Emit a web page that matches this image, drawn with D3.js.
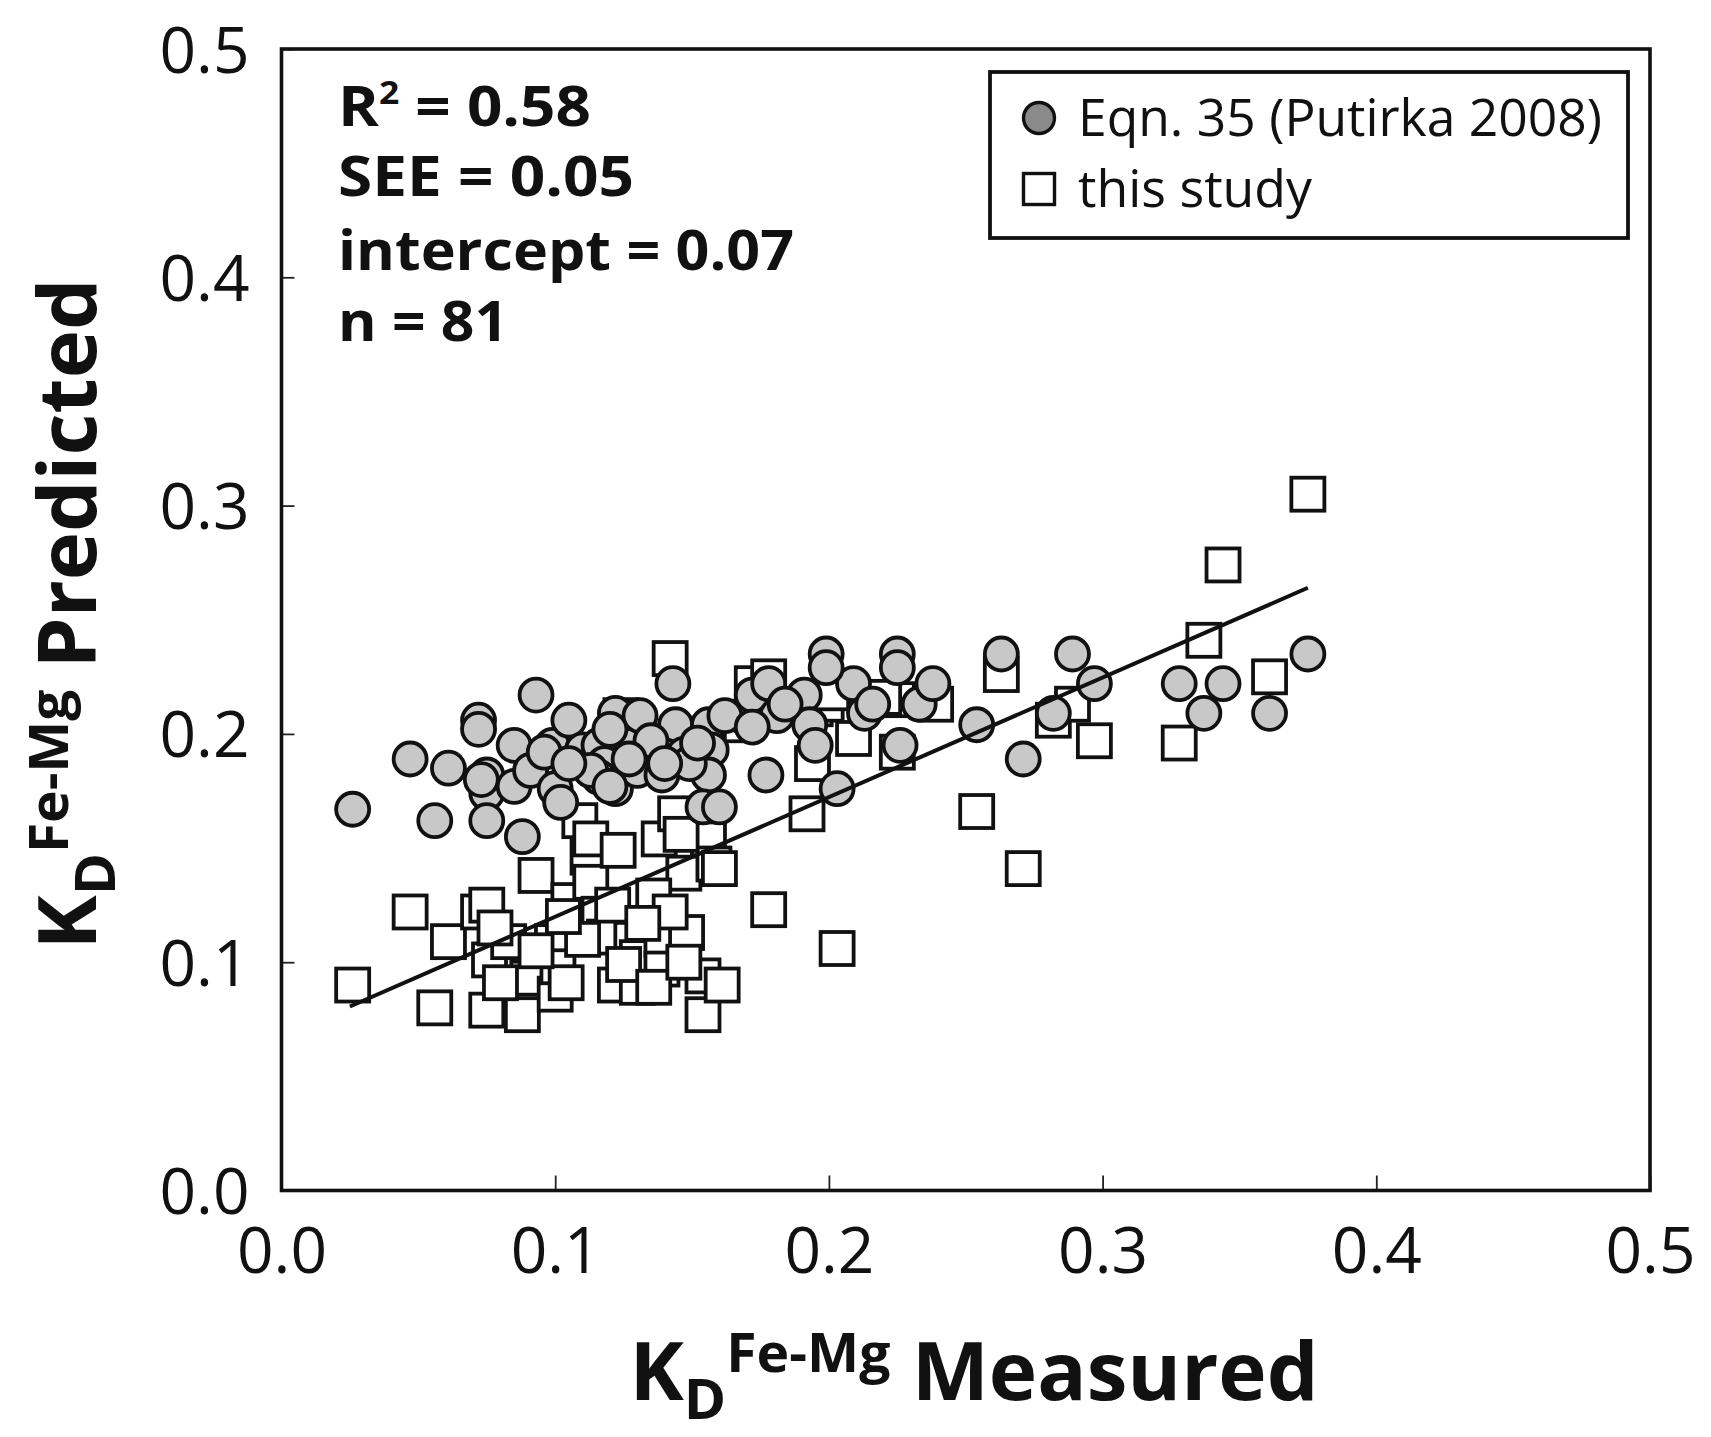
<!DOCTYPE html>
<html>
<head>
<meta charset="utf-8">
<script src="https://cdn.jsdelivr.net/npm/d3@7"></script>
<style>
  body { margin: 0; background: #fff; }
  svg { display: block; }
  text { font-family: "Open Sans", "Noto Sans", sans-serif; fill: #111; }
</style>
</head>
<body>
<svg id="chart" width="1711" height="1437"></svg>
<script>
// Eqn. 35 (Putirka 2008): measured vs predicted KD(Fe-Mg)
const putirkaX = [0.026,0.047,0.056,0.061,0.072,0.072,0.075,0.075,0.075,0.085,0.085,0.088,0.093,0.091,0.099,0.100,0.102,0.105,0.110,0.116,0.118,0.116,0.122,0.122,0.128,0.131,0.130,0.138,0.139,0.143,0.144,0.147,0.156,0.157,0.156,0.154,0.160,0.168,0.172,0.177,0.178,0.181,0.191,0.193,0.195,0.199,0.203,0.209,0.213,0.225,0.225,0.226,0.233,0.238,0.254,0.263,0.271,0.282,0.289,0.297,0.328,0.337,0.344,0.361,0.375,0.120,0.135,0.149,0.113,0.127,0.162,0.172,0.184,0.140,0.096,0.073,0.199,0.216,0.105,0.120,0.152];
const putirkaY = [0.167,0.189,0.162,0.185,0.206,0.202,0.182,0.174,0.162,0.195,0.177,0.155,0.217,0.184,0.195,0.176,0.170,0.206,0.193,0.195,0.187,0.181,0.176,0.209,0.195,0.208,0.184,0.195,0.182,0.222,0.204,0.191,0.204,0.193,0.182,0.168,0.168,0.208,0.217,0.182,0.222,0.208,0.217,0.204,0.195,0.235,0.176,0.222,0.209,0.235,0.229,0.195,0.213,0.222,0.204,0.235,0.189,0.209,0.235,0.222,0.222,0.209,0.222,0.209,0.235,0.202,0.197,0.187,0.184,0.189,0.208,0.203,0.213,0.187,0.192,0.180,0.229,0.213,0.187,0.177,0.196];

// This study: measured vs predicted KD(Fe-Mg)
const studyX = [0.026,0.047,0.056,0.061,0.072,0.075,0.075,0.076,0.083,0.088,0.090,0.093,0.100,0.099,0.101,0.105,0.109,0.112,0.113,0.113,0.116,0.118,0.122,0.123,0.124,0.128,0.130,0.130,0.138,0.139,0.139,0.142,0.144,0.147,0.148,0.154,0.154,0.156,0.158,0.161,0.168,0.172,0.178,0.178,0.192,0.194,0.195,0.199,0.203,0.209,0.225,0.225,0.239,0.254,0.263,0.271,0.282,0.289,0.297,0.328,0.337,0.344,0.361,0.375,0.136,0.080,0.104,0.125,0.136,0.147,0.121,0.142,0.110,0.093,0.160,0.146,0.103,0.078,0.132,0.201,0.220];
const studyY = [0.090,0.122,0.080,0.109,0.122,0.125,0.079,0.101,0.109,0.077,0.093,0.138,0.086,0.109,0.098,0.127,0.162,0.146,0.154,0.135,0.121,0.111,0.090,0.149,0.208,0.110,0.102,0.089,0.154,0.110,0.097,0.233,0.165,0.139,0.113,0.094,0.077,0.154,0.143,0.090,0.204,0.222,0.123,0.225,0.165,0.187,0.211,0.213,0.106,0.198,0.192,0.215,0.213,0.166,0.226,0.141,0.206,0.213,0.197,0.196,0.241,0.274,0.225,0.305,0.129,0.091,0.091,0.099,0.089,0.100,0.125,0.122,0.110,0.105,0.141,0.156,0.120,0.115,0.117,0.218,0.216];

// Regression line for this study
const fitIntercept = 0.0675;
const fitSlope = 0.524;
const fitRange = [0.025, 0.375];

// Axes
const axisTicks = [0, 0.1, 0.2, 0.3, 0.4, 0.5];
const axisTickLabels = ["0.0", "0.1", "0.2", "0.3", "0.4", "0.5"];

// Fit statistics
const statNames = ["R", "SEE", "intercept", "n"];
const statValues = ["0.58", "0.05", "0.07", "81"];

// Legend
const legendLabels = ["Eqn. 35 (Putirka 2008)", "this study"];

const svg = d3.select("#chart");
const plot = { left: 281.5, right: 1650, top: 49, bottom: 1190.5 };

const x = d3.scaleLinear().domain([0, 0.5]).range([plot.left, plot.right]);
const y = d3.scaleLinear().domain([0, 0.5]).range([plot.bottom, plot.top]);

// Axes with inward ticks
const xAxis = d3.axisBottom(x)
  .tickValues(axisTicks)
  .tickFormat((d, i) => axisTickLabels[i])
  .tickSize(-15)
  .tickPadding(37);
const yAxis = d3.axisLeft(y)
  .tickValues(axisTicks)
  .tickFormat((d, i) => axisTickLabels[i])
  .tickSize(-13)
  .tickPadding(32);

const gx = svg.append("g").attr("transform", `translate(0,${plot.bottom})`).call(xAxis);
const gy = svg.append("g").attr("transform", `translate(${plot.left},0)`).call(yAxis);
[gx, gy].forEach(g => {
  g.select(".domain").remove();
  g.selectAll(".tick line").attr("stroke", "#222").attr("stroke-width", 1.8);
  g.selectAll(".tick text")
    .attr("fill", "#111")
    .style("font-family", '"Open Sans", sans-serif')
    .style("font-size", "64px")
    .style("font-weight", 400);
});
gy.selectAll(".tick text").attr("dy", "0.36em");

// Markers: squares first, circles over them, fit line on top
const sq = 33;
svg.append("g").selectAll("rect")
  .data(d3.zip(studyX, studyY))
  .join("rect")
  .attr("x", d => x(d[0]) - sq / 2)
  .attr("y", d => y(d[1]) - sq / 2)
  .attr("width", sq).attr("height", sq)
  .attr("fill", "#fff").attr("stroke", "#111").attr("stroke-width", 3.8);

svg.append("g").selectAll("circle")
  .data(d3.zip(putirkaX, putirkaY))
  .join("circle")
  .attr("cx", d => x(d[0]))
  .attr("cy", d => y(d[1]))
  .attr("r", 16.5)
  .attr("fill", "#c8c8c8").attr("stroke", "#111").attr("stroke-width", 3.8);

svg.append("line")
  .attr("x1", x(fitRange[0])).attr("y1", y(fitIntercept + fitSlope * fitRange[0]))
  .attr("x2", x(fitRange[1])).attr("y2", y(fitIntercept + fitSlope * fitRange[1]))
  .attr("stroke", "#111").attr("stroke-width", 4);

// Plot frame
svg.append("rect")
  .attr("x", plot.left).attr("y", plot.top)
  .attr("width", plot.right - plot.left).attr("height", plot.bottom - plot.top)
  .attr("fill", "none").attr("stroke", "#111").attr("stroke-width", 3.6);

// Fit statistics block
const statBase = [125.5, 196, 269.5, 340.5];
const statWidth = [253, 296, 456, 170];
statNames.forEach((name, i) => {
  const t = svg.append("text")
    .attr("x", 338).attr("y", statBase[i])
    .style("font-size", "56px").style("font-weight", 700)
    .attr("textLength", statWidth[i]).attr("lengthAdjust", "spacingAndGlyphs");
  t.append("tspan").text(name);
  if (name === "R") {
    t.append("tspan").attr("dy", -22).style("font-size", "32px").text("2");
    t.append("tspan").attr("dy", 22).text(" = " + statValues[i]);
  } else {
    t.append("tspan").text(" = " + statValues[i]);
  }
});

// Legend
const legend = svg.append("g");
legend.append("rect")
  .attr("x", 990).attr("y", 72).attr("width", 638).attr("height", 166)
  .attr("fill", "#fff").attr("stroke", "#111").attr("stroke-width", 3.8);
legend.append("circle")
  .attr("cx", 1039).attr("cy", 118).attr("r", 15.5)
  .attr("fill", "#8a8a8a").attr("stroke", "#111").attr("stroke-width", 3.4);
legend.append("rect")
  .attr("x", 1039 - 15.5).attr("y", 189 - 15.5).attr("width", 31).attr("height", 31)
  .attr("fill", "#fff").attr("stroke", "#111").attr("stroke-width", 3.4);
const legendBase = [136, 207];
const legendWidth = [524, 234];
legendLabels.forEach((label, i) => {
  svg.append("text")
    .attr("x", 1078).attr("y", legendBase[i])
    .style("font-size", "51px").style("font-weight", 400)
    .attr("textLength", legendWidth[i]).attr("lengthAdjust", "spacingAndGlyphs")
    .text(label);
});

// Axis titles: K_D^{Fe-Mg} with subscript and superscript
function axisTitle(sel, word) {
  sel.style("font-weight", 700).style("font-size", "80px");
  sel.append("tspan").text("K");
  sel.append("tspan").attr("dy", 19).style("font-size", "56px").text("D");
  sel.append("tspan").attr("dy", -47).style("font-size", "54px").text("Fe-Mg");
  sel.append("tspan").attr("dy", 28).text(" " + word);
}

const xTitle = svg.append("text")
  .attr("x", 974).attr("y", 1400)
  .attr("text-anchor", "middle")
  .attr("textLength", 689).attr("lengthAdjust", "spacingAndGlyphs");
axisTitle(xTitle, "Measured");

const yTitle = svg.append("text")
  .attr("transform", "translate(96,614) rotate(-90)")
  .attr("text-anchor", "middle")
  .attr("textLength", 671).attr("lengthAdjust", "spacingAndGlyphs");
axisTitle(yTitle, "Predicted");
</script>
</body>
</html>
